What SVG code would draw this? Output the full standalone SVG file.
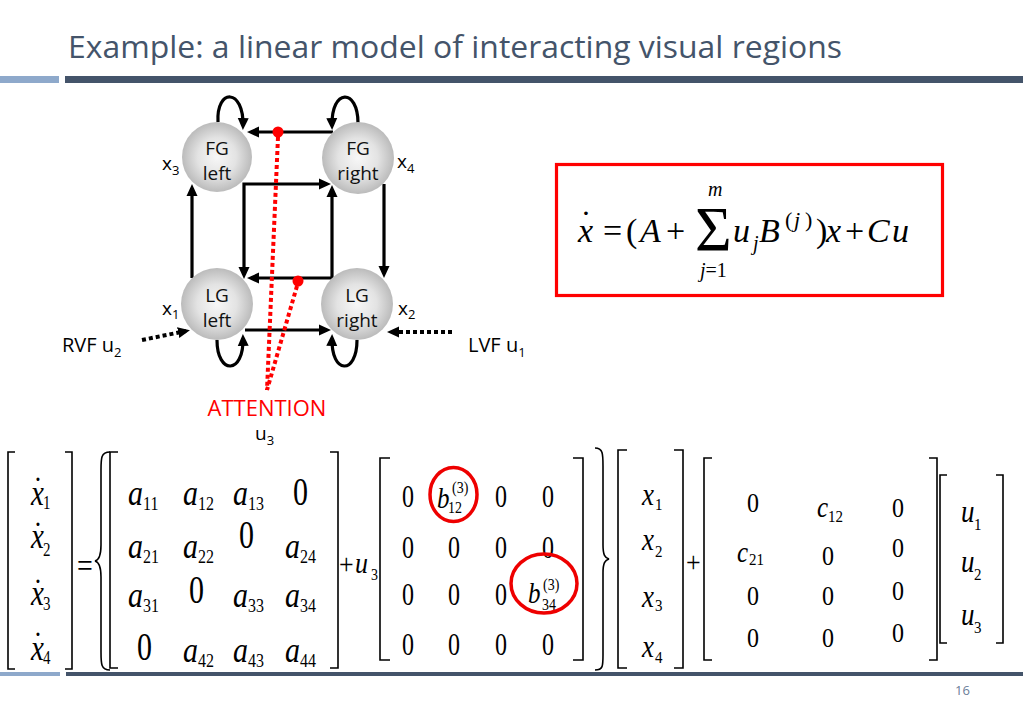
<svg xmlns="http://www.w3.org/2000/svg" width="1023" height="708" viewBox="0 0 1023 708">
<defs>
<radialGradient id="ball" cx="50%" cy="50%" r="50%">
<stop offset="0" stop-color="#F7F7F7"/>
<stop offset="0.55" stop-color="#E3E3E3"/>
<stop offset="1" stop-color="#BBBBBB"/>
</radialGradient>
<marker id="ah" viewBox="0 0 12 12" refX="8" refY="6" markerWidth="12" markerHeight="12" markerUnits="userSpaceOnUse" orient="auto-start-reverse">
<path d="M0,0.5 L12,6 L0,11.5 z" fill="#000"/>
</marker>
<style>
.sans{font-family:'Open Sans','Liberation Sans',sans-serif;}
.mi{font-family:'Liberation Serif','Times New Roman',serif;font-style:italic;fill:#000;}
.mn{font-family:'Liberation Serif','Times New Roman',serif;fill:#000;}
.lbl{font-size:19px;fill:#111;text-anchor:middle;}
.conn{fill:none;stroke:#000;stroke-width:3.2;}
.dotted{fill:none;stroke:#000;stroke-width:4;stroke-dasharray:4 3;}
.att{fill:none;stroke:#F00;stroke-width:4;stroke-dasharray:4 3;}
.br{fill:none;stroke:#000;stroke-width:1.6;}
.node circle{fill:url(#ball);}
</style>
</defs>
<rect width="1023" height="708" fill="#fff"/>

<!-- header -->
<text class="sans" x="68" y="58" font-size="31" fill="#44546A" textLength="774" lengthAdjust="spacingAndGlyphs">Example: a linear model of interacting visual regions</text>
<rect x="0" y="76" width="59" height="7" fill="#8EA9CB"/>
<rect x="65" y="76" width="958" height="7" fill="#44546A"/>

<!-- footer -->
<rect x="0" y="672" width="60" height="4" fill="#8EA9CB"/>
<rect x="66" y="672" width="957" height="4" fill="#44546A"/>
<text class="sans" x="955" y="695" font-size="13" fill="#6B7D99">16</text>

<!-- connectors -->
<g id="connectors">
<path class="conn" d="M333,132 L251,132" marker-end="url(#ah)"/>
<path class="conn" d="M327,184 L244,184 L244,275" marker-start="url(#ah)" marker-end="url(#ah)"/>
<path class="conn" d="M332,189 L332,278 L251,278" marker-start="url(#ah)" marker-end="url(#ah)"/>
<path class="conn" d="M192,278 L192,188" marker-end="url(#ah)"/>
<path class="conn" d="M384,184 L384,274" marker-end="url(#ah)"/>
<path class="conn" d="M245,330 L327,330" marker-end="url(#ah)"/>
<path class="conn" d="M218,122 C216,88 244,88 243,126" marker-end="url(#ah)"/>
<path class="conn" d="M358,123 C358,88 331,88 332,126" marker-end="url(#ah)"/>
<path class="conn" d="M217,340 C217,375 244,375 243,338" marker-end="url(#ah)"/>
<path class="conn" d="M357,340 C357,375 331,375 332,338" marker-end="url(#ah)"/>
<path class="dotted" d="M142,340 L186,331" marker-end="url(#ah)"/>
<path class="dotted" d="M452,332 L391,332" marker-end="url(#ah)"/>
<path class="att" d="M278,137 L267,390"/>
<path class="att" d="M297,286 L267,390"/>
<circle cx="278" cy="132" r="5.5" fill="#F00"/>
<circle cx="298" cy="281" r="5.5" fill="#F00"/>
</g>

<!-- nodes -->
<g id="node-fg-left" class="node">
<circle cx="217" cy="157" r="35"/>
<text class="sans lbl" x="217" y="155">FG</text>
<text class="sans lbl" x="217" y="180">left</text>
<text class="sans" x="162" y="170" font-size="19">x<tspan font-size="13" dy="5">3</tspan></text>
</g>
<g id="node-fg-right" class="node">
<circle cx="358" cy="158" r="36"/>
<text class="sans lbl" x="358" y="155">FG</text>
<text class="sans lbl" x="358" y="180">right</text>
<text class="sans" x="397" y="168" font-size="19">x<tspan font-size="13" dy="5">4</tspan></text>
</g>
<g id="node-lg-left" class="node">
<circle cx="217" cy="304" r="36"/>
<text class="sans lbl" x="217" y="302">LG</text>
<text class="sans lbl" x="217" y="327">left</text>
<text class="sans" x="162" y="315" font-size="19">x<tspan font-size="13" dy="4">1</tspan></text>
</g>
<g id="node-lg-right" class="node">
<circle cx="357" cy="304" r="36"/>
<text class="sans lbl" x="357" y="302">LG</text>
<text class="sans lbl" x="357" y="327">right</text>
<text class="sans" x="398" y="315" font-size="19">x<tspan font-size="13" dy="4">2</tspan></text>
</g>
<g id="input-rvf">
<text class="sans" x="62" y="352" font-size="20">RVF u<tspan font-size="13" dy="5">2</tspan></text>
</g>
<g id="input-lvf">
<text class="sans" x="468" y="352" font-size="20">LVF u<tspan font-size="13" dy="5">1</tspan></text>
</g>
<g id="input-attention">
<text class="sans" x="267" y="416" font-size="22" fill="#F00" text-anchor="middle">ATTENTION</text>
<text class="sans" x="255" y="440" font-size="19">u<tspan font-size="13" dy="5">3</tspan></text>
</g>

<!-- equation box -->
<g id="equation">
<rect x="556.5" y="164.5" width="386" height="131" fill="none" stroke="#F00" stroke-width="3.2"/>
<text class="mi" x="578" y="242" font-size="34">x</text>
<text class="mn" x="586" y="234" font-size="34" text-anchor="middle">˙</text>
<text class="mn" x="603" y="242" font-size="34">=</text>
<text class="mn" x="626" y="242" font-size="34">(</text>
<text class="mi" x="640" y="242" font-size="34">A</text>
<text class="mn" x="666" y="242" font-size="34">+</text>
<text class="mn" x="695" y="251" font-size="63">Σ</text>
<text class="mi" x="708" y="196" font-size="20">m</text>
<text x="700" y="277" font-size="20"><tspan class="mi">j</tspan><tspan class="mn">=1</tspan></text>
<text class="mi" x="733" y="242" font-size="34">u</text>
<text class="mi" x="753" y="250" font-size="20">j</text>
<text class="mi" x="759" y="242" font-size="34">B</text>
<text class="mn" x="785" y="227" font-size="22">(</text>
<text class="mi" x="794" y="227" font-size="22">j</text>
<text class="mn" x="805" y="227" font-size="22">)</text>
<text class="mn" x="816" y="242" font-size="34">)</text>
<text class="mi" x="826" y="242" font-size="34">x</text>
<text class="mn" x="845" y="242" font-size="34">+</text>
<text class="mi" x="867" y="242" font-size="34">C</text>
<text class="mi" x="892" y="242" font-size="34">u</text>
</g>

<!-- matrix equation -->
<g id="matrix-equation">
<path class="br" d="M15,452 H8 V669 H15"/>
<path class="br" d="M65,452 H72 V669 H65"/>
<path class="br" d="M110,452 C101,452 101,458 101,470 L101,545 C101,556 99,560 95,561 C99,562 101,566 101,577 L101,652 C101,664 101,670 110,670"/>
<path class="br" d="M118,452 H110 V668 H118"/>
<path class="br" d="M330,452 H338 V668 H330"/>
<path class="br" d="M390,458 H380 V660 H390"/>
<path class="br" d="M573,458 H583 V660 H573"/>
<path class="br" d="M595,448 C603,448 603,454 603,466 L603,545 C603,555 605,558 609,559 C605,560 603,563 603,573 L603,655 C603,666 603,670 595,670"/>
<path class="br" d="M627,450 H618 V668 H627"/>
<path class="br" d="M674,450 H683 V668 H674"/>
<path class="br" d="M712,458 H704 V660 H712"/>
<path class="br" d="M929,458 H937 V660 H929"/>
<path class="br" d="M947,475 H940 V643 H947"/>
<path class="br" d="M996,475 H1003 V643 H996"/>

<!-- x dot vector -->
<text class="mi" font-size="29" transform="translate(31,505) scale(1,1.2)">x</text>
<text class="mn" font-size="28" text-anchor="middle" transform="translate(38,500) scale(1,1.2)">˙</text>
<text class="mn" font-size="15" transform="translate(43,509) scale(1,1.2)">1</text>
<text class="mi" font-size="29" transform="translate(31,548) scale(1,1.2)">x</text>
<text class="mn" font-size="28" text-anchor="middle" transform="translate(38,545) scale(1,1.2)">˙</text>
<text class="mn" font-size="15" transform="translate(43,556) scale(1,1.2)">2</text>
<text class="mi" font-size="29" transform="translate(31,605) scale(1,1.2)">x</text>
<text class="mn" font-size="28" text-anchor="middle" transform="translate(38,602) scale(1,1.2)">˙</text>
<text class="mn" font-size="15" transform="translate(43,610) scale(1,1.2)">3</text>
<text class="mi" font-size="29" transform="translate(31,660) scale(1,1.2)">x</text>
<text class="mn" font-size="28" text-anchor="middle" transform="translate(38,655) scale(1,1.2)">˙</text>
<text class="mn" font-size="15" transform="translate(43,664) scale(1,1.2)">4</text>

<text class="mn" font-size="28" transform="translate(77,577) scale(1,1.2)">=</text>

<!-- A matrix -->
<text class="mi" font-size="30" transform="translate(128,505) scale(1,1.2)">a</text>
<text class="mn" font-size="16" transform="translate(143,510) scale(1,1.2)">11</text>
<text class="mi" font-size="30" transform="translate(183,505) scale(1,1.2)">a</text>
<text class="mn" font-size="16" transform="translate(198,510) scale(1,1.2)">12</text>
<text class="mi" font-size="30" transform="translate(233,505) scale(1,1.2)">a</text>
<text class="mn" font-size="16" transform="translate(248,510) scale(1,1.2)">13</text>
<text class="mn" font-size="30" transform="translate(293,505) scale(1,1.35)">0</text>

<text class="mi" font-size="30" transform="translate(128,558) scale(1,1.2)">a</text>
<text class="mn" font-size="16" transform="translate(143,563) scale(1,1.2)">21</text>
<text class="mi" font-size="30" transform="translate(183,558) scale(1,1.2)">a</text>
<text class="mn" font-size="16" transform="translate(198,563) scale(1,1.2)">22</text>
<text class="mn" font-size="30" transform="translate(239,548) scale(1,1.35)">0</text>
<text class="mi" font-size="30" transform="translate(285,558) scale(1,1.2)">a</text>
<text class="mn" font-size="16" transform="translate(300,563) scale(1,1.2)">24</text>

<text class="mi" font-size="30" transform="translate(128,607) scale(1,1.2)">a</text>
<text class="mn" font-size="16" transform="translate(143,612) scale(1,1.2)">31</text>
<text class="mn" font-size="30" transform="translate(189,603) scale(1,1.35)">0</text>
<text class="mi" font-size="30" transform="translate(233,607) scale(1,1.2)">a</text>
<text class="mn" font-size="16" transform="translate(248,612) scale(1,1.2)">33</text>
<text class="mi" font-size="30" transform="translate(285,607) scale(1,1.2)">a</text>
<text class="mn" font-size="16" transform="translate(300,612) scale(1,1.2)">34</text>

<text class="mn" font-size="30" transform="translate(137,660) scale(1,1.35)">0</text>
<text class="mi" font-size="30" transform="translate(183,662) scale(1,1.2)">a</text>
<text class="mn" font-size="16" transform="translate(198,667) scale(1,1.2)">42</text>
<text class="mi" font-size="30" transform="translate(233,662) scale(1,1.2)">a</text>
<text class="mn" font-size="16" transform="translate(248,667) scale(1,1.2)">43</text>
<text class="mi" font-size="30" transform="translate(285,662) scale(1,1.2)">a</text>
<text class="mn" font-size="16" transform="translate(300,667) scale(1,1.2)">44</text>

<!-- + u3 -->
<text class="mn" font-size="26" transform="translate(339,574) scale(1,1.15)">+</text>
<text class="mi" font-size="26" transform="translate(355,573) scale(1,1.15)">u</text>
<text class="mn" font-size="14" transform="translate(371,580) scale(1,1.15)">3</text>

<!-- B matrix -->
<text class="mn" font-size="24" transform="translate(402,507) scale(1,1.35)">0</text>
<text class="mi" font-size="25" transform="translate(437,508) scale(1,1.15)">b</text>
<text class="mn" font-size="14" transform="translate(452,493) scale(1,1.15)">(3)</text>
<text class="mn" font-size="14" transform="translate(448,513) scale(1,1.15)">12</text>
<text class="mn" font-size="24" transform="translate(495,507) scale(1,1.35)">0</text>
<text class="mn" font-size="24" transform="translate(542,507) scale(1,1.35)">0</text>

<text class="mn" font-size="24" transform="translate(402,558) scale(1,1.35)">0</text>
<text class="mn" font-size="24" transform="translate(448,558) scale(1,1.35)">0</text>
<text class="mn" font-size="24" transform="translate(495,558) scale(1,1.35)">0</text>
<text class="mn" font-size="24" transform="translate(542,558) scale(1,1.35)">0</text>

<text class="mn" font-size="24" transform="translate(402,605) scale(1,1.35)">0</text>
<text class="mn" font-size="24" transform="translate(448,605) scale(1,1.35)">0</text>
<text class="mn" font-size="24" transform="translate(495,605) scale(1,1.35)">0</text>
<text class="mi" font-size="25" transform="translate(528,603) scale(1,1.15)">b</text>
<text class="mn" font-size="14" transform="translate(543,590) scale(1,1.15)">(3)</text>
<text class="mn" font-size="14" transform="translate(542,610) scale(1,1.15)">34</text>

<text class="mn" font-size="24" transform="translate(402,655) scale(1,1.35)">0</text>
<text class="mn" font-size="24" transform="translate(448,655) scale(1,1.35)">0</text>
<text class="mn" font-size="24" transform="translate(495,655) scale(1,1.35)">0</text>
<text class="mn" font-size="24" transform="translate(542,655) scale(1,1.35)">0</text>

<ellipse cx="453.5" cy="494.5" rx="23.5" ry="27" fill="none" stroke="#E00" stroke-width="3.5"/>
<ellipse cx="544" cy="583.5" rx="33" ry="29.5" fill="none" stroke="#E00" stroke-width="3.5"/>

<!-- x vector -->
<text class="mi" font-size="27" transform="translate(642,505) scale(1,1.15)">x</text>
<text class="mn" font-size="15" transform="translate(655,510) scale(1,1.15)">1</text>
<text class="mi" font-size="27" transform="translate(642,550) scale(1,1.15)">x</text>
<text class="mn" font-size="15" transform="translate(655,557) scale(1,1.15)">2</text>
<text class="mi" font-size="27" transform="translate(642,607) scale(1,1.15)">x</text>
<text class="mn" font-size="15" transform="translate(655,611) scale(1,1.15)">3</text>
<text class="mi" font-size="27" transform="translate(642,657) scale(1,1.15)">x</text>
<text class="mn" font-size="15" transform="translate(655,663) scale(1,1.15)">4</text>

<text class="mn" font-size="26" transform="translate(686,572) scale(1,1.15)">+</text>

<!-- C matrix -->
<text class="mn" font-size="24" transform="translate(747,512) scale(1,1.15)">0</text>
<text class="mi" font-size="25" transform="translate(817,517) scale(1,1.15)">c</text>
<text class="mn" font-size="15" transform="translate(828,522) scale(1,1.15)">12</text>
<text class="mn" font-size="24" transform="translate(892,517) scale(1,1.15)">0</text>

<text class="mi" font-size="25" transform="translate(737,562) scale(1,1.15)">c</text>
<text class="mn" font-size="15" transform="translate(749,565) scale(1,1.15)">21</text>
<text class="mn" font-size="24" transform="translate(822,565) scale(1,1.15)">0</text>
<text class="mn" font-size="24" transform="translate(892,557) scale(1,1.15)">0</text>

<text class="mn" font-size="24" transform="translate(747,605) scale(1,1.15)">0</text>
<text class="mn" font-size="24" transform="translate(822,605) scale(1,1.15)">0</text>
<text class="mn" font-size="24" transform="translate(892,600) scale(1,1.15)">0</text>

<text class="mn" font-size="24" transform="translate(747,647) scale(1,1.15)">0</text>
<text class="mn" font-size="24" transform="translate(822,647) scale(1,1.15)">0</text>
<text class="mn" font-size="24" transform="translate(892,642) scale(1,1.15)">0</text>

<!-- u vector -->
<text class="mi" font-size="27" transform="translate(961,522) scale(1,1.15)">u</text>
<text class="mn" font-size="15" transform="translate(974,530) scale(1,1.15)">1</text>
<text class="mi" font-size="27" transform="translate(961,572) scale(1,1.15)">u</text>
<text class="mn" font-size="15" transform="translate(974,580) scale(1,1.15)">2</text>
<text class="mi" font-size="27" transform="translate(961,625) scale(1,1.15)">u</text>
<text class="mn" font-size="15" transform="translate(974,633) scale(1,1.15)">3</text>
</g>
</svg>
